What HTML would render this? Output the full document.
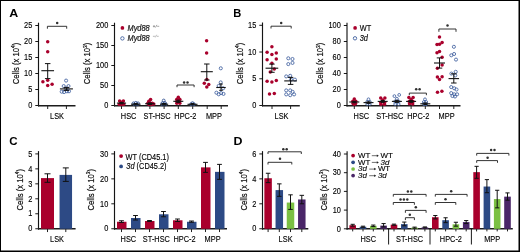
<!DOCTYPE html>
<html><head><meta charset="utf-8"><style>
html,body{margin:0;padding:0;background:#fff;overflow:hidden;width:520px;height:252px;}
svg{display:block;font-family:"Liberation Sans", sans-serif;}
text{stroke:#000;stroke-width:0.13px;}
.w{will-change:transform;}
</style></head><body>
<svg width="520" height="252" viewBox="0 0 520 252">
<rect width="520" height="252" fill="#fff"/>
<g class="w">
<rect x="0" y="0" width="520" height="1" fill="#000"/>
<rect x="0" y="0" width="1" height="252" fill="#000"/>
<rect x="518.5" y="0" width="1.5" height="252" fill="#000"/>
<rect x="0" y="250.5" width="520" height="1.5" fill="#000"/>
<text transform="translate(9.30,16.60) scale(1.08,1)" font-size="11.5" text-anchor="start" font-weight="bold" font-style="normal" fill="#000" style="stroke:none">A</text>
<line x1="38.50" y1="22.70" x2="38.50" y2="106.40" stroke="#151515" stroke-width="1.15"/>
<line x1="35.30" y1="105.50" x2="38.50" y2="105.50" stroke="#000" stroke-width="0.9"/>
<text transform="translate(32.30,108.20) scale(0.9,1)" font-size="8.2" text-anchor="end" font-weight="normal" font-style="normal" fill="#000" >0</text>
<line x1="35.30" y1="89.50" x2="38.50" y2="89.50" stroke="#000" stroke-width="0.9"/>
<text transform="translate(32.30,92.20) scale(0.9,1)" font-size="8.2" text-anchor="end" font-weight="normal" font-style="normal" fill="#000" >5</text>
<line x1="35.30" y1="73.50" x2="38.50" y2="73.50" stroke="#000" stroke-width="0.9"/>
<text transform="translate(32.30,76.20) scale(0.9,1)" font-size="8.2" text-anchor="end" font-weight="normal" font-style="normal" fill="#000" >10</text>
<line x1="35.30" y1="57.50" x2="38.50" y2="57.50" stroke="#000" stroke-width="0.9"/>
<text transform="translate(32.30,60.20) scale(0.9,1)" font-size="8.2" text-anchor="end" font-weight="normal" font-style="normal" fill="#000" >15</text>
<line x1="35.30" y1="41.50" x2="38.50" y2="41.50" stroke="#000" stroke-width="0.9"/>
<text transform="translate(32.30,44.20) scale(0.9,1)" font-size="8.2" text-anchor="end" font-weight="normal" font-style="normal" fill="#000" >20</text>
<line x1="35.30" y1="25.50" x2="38.50" y2="25.50" stroke="#000" stroke-width="0.9"/>
<text transform="translate(32.30,28.20) scale(0.9,1)" font-size="8.2" text-anchor="end" font-weight="normal" font-style="normal" fill="#000" >25</text>
<line x1="38.00" y1="105.70" x2="75.50" y2="105.70" stroke="#1c1c1c" stroke-width="1.4"/>
<line x1="47.70" y1="105.70" x2="47.70" y2="109.00" stroke="#222" stroke-width="1.0"/>
<line x1="66.40" y1="105.70" x2="66.40" y2="109.00" stroke="#222" stroke-width="1.0"/>
<text transform="translate(18.50,63.50) rotate(-90) scale(0.795,1)" font-size="9.7" text-anchor="middle" fill="#111" style="stroke-width:0.2px">Cells (x 10<tspan font-size="6" dy="-3.6">4</tspan><tspan dy="3.6">)</tspan></text>
<text transform="translate(57.00,118.80) scale(0.9,1)" font-size="8.2" text-anchor="middle" font-weight="normal" font-style="normal" fill="#000" >LSK</text>
<path d="M47.40,28.70 V26.30 H66.70 V28.70" fill="none" stroke="#1e1e1e" stroke-width="0.9"/>
<circle cx="57.20" cy="23.00" r="1.25" fill="#303030"/>
<circle cx="47.70" cy="41.70" r="1.75" fill="#a9002c"/>
<circle cx="47.70" cy="51.70" r="1.75" fill="#a9002c"/>
<circle cx="42.90" cy="81.80" r="1.75" fill="#a9002c"/>
<circle cx="47.70" cy="80.20" r="1.75" fill="#a9002c"/>
<circle cx="47.70" cy="85.50" r="1.75" fill="#a9002c"/>
<circle cx="52.10" cy="84.20" r="1.75" fill="#a9002c"/>
<circle cx="66.10" cy="80.60" r="1.55" fill="none" stroke="#41619f" stroke-width="0.85"/>
<circle cx="63.70" cy="86.10" r="1.55" fill="none" stroke="#41619f" stroke-width="0.85"/>
<circle cx="68.50" cy="86.10" r="1.55" fill="none" stroke="#41619f" stroke-width="0.85"/>
<circle cx="61.70" cy="91.70" r="1.55" fill="none" stroke="#41619f" stroke-width="0.85"/>
<circle cx="64.10" cy="92.10" r="1.55" fill="none" stroke="#41619f" stroke-width="0.85"/>
<circle cx="66.90" cy="91.30" r="1.55" fill="none" stroke="#41619f" stroke-width="0.85"/>
<circle cx="69.00" cy="91.30" r="1.55" fill="none" stroke="#41619f" stroke-width="0.85"/>
<circle cx="66.20" cy="88.60" r="1.55" fill="none" stroke="#41619f" stroke-width="0.85"/>
<line x1="47.70" y1="63.60" x2="47.70" y2="78.60" stroke="#111" stroke-width="1.0"/>
<line x1="44.95" y1="63.60" x2="50.45" y2="63.60" stroke="#111" stroke-width="1.0"/>
<line x1="44.95" y1="78.60" x2="50.45" y2="78.60" stroke="#111" stroke-width="1.0"/>
<line x1="41.35" y1="70.70" x2="54.05" y2="70.70" stroke="#111" stroke-width="1.1"/>
<line x1="66.40" y1="87.40" x2="66.40" y2="90.40" stroke="#111" stroke-width="1.0"/>
<line x1="63.65" y1="87.40" x2="69.15" y2="87.40" stroke="#111" stroke-width="1.0"/>
<line x1="63.65" y1="90.40" x2="69.15" y2="90.40" stroke="#111" stroke-width="1.0"/>
<line x1="59.90" y1="88.90" x2="72.90" y2="88.90" stroke="#111" stroke-width="1.1"/>
<line x1="114.50" y1="22.70" x2="114.50" y2="106.40" stroke="#151515" stroke-width="1.15"/>
<line x1="111.30" y1="105.50" x2="114.50" y2="105.50" stroke="#000" stroke-width="0.9"/>
<text transform="translate(108.30,108.20) scale(0.9,1)" font-size="8.2" text-anchor="end" font-weight="normal" font-style="normal" fill="#000" >0</text>
<line x1="111.30" y1="85.50" x2="114.50" y2="85.50" stroke="#000" stroke-width="0.9"/>
<text transform="translate(108.30,88.20) scale(0.9,1)" font-size="8.2" text-anchor="end" font-weight="normal" font-style="normal" fill="#000" >50</text>
<line x1="111.30" y1="65.50" x2="114.50" y2="65.50" stroke="#000" stroke-width="0.9"/>
<text transform="translate(108.30,68.20) scale(0.9,1)" font-size="8.2" text-anchor="end" font-weight="normal" font-style="normal" fill="#000" >100</text>
<line x1="111.30" y1="45.50" x2="114.50" y2="45.50" stroke="#000" stroke-width="0.9"/>
<text transform="translate(108.30,48.20) scale(0.9,1)" font-size="8.2" text-anchor="end" font-weight="normal" font-style="normal" fill="#000" >150</text>
<line x1="111.30" y1="25.50" x2="114.50" y2="25.50" stroke="#000" stroke-width="0.9"/>
<text transform="translate(108.30,28.20) scale(0.9,1)" font-size="8.2" text-anchor="end" font-weight="normal" font-style="normal" fill="#000" >200</text>
<line x1="114.00" y1="105.70" x2="228.00" y2="105.70" stroke="#1c1c1c" stroke-width="1.4"/>
<line x1="121.50" y1="105.70" x2="121.50" y2="109.00" stroke="#222" stroke-width="1.0"/>
<line x1="135.80" y1="105.70" x2="135.80" y2="109.00" stroke="#222" stroke-width="1.0"/>
<line x1="149.90" y1="105.70" x2="149.90" y2="109.00" stroke="#222" stroke-width="1.0"/>
<line x1="164.10" y1="105.70" x2="164.10" y2="109.00" stroke="#222" stroke-width="1.0"/>
<line x1="178.30" y1="105.70" x2="178.30" y2="109.00" stroke="#222" stroke-width="1.0"/>
<line x1="192.70" y1="105.70" x2="192.70" y2="109.00" stroke="#222" stroke-width="1.0"/>
<line x1="207.20" y1="105.70" x2="207.20" y2="109.00" stroke="#222" stroke-width="1.0"/>
<line x1="221.20" y1="105.70" x2="221.20" y2="109.00" stroke="#222" stroke-width="1.0"/>
<text transform="translate(90.40,63.50) rotate(-90) scale(0.795,1)" font-size="9.7" text-anchor="middle" fill="#111" style="stroke-width:0.2px">Cells (x 10<tspan font-size="6" dy="-3.6">3</tspan><tspan dy="3.6">)</tspan></text>
<text transform="translate(128.60,118.80) scale(0.9,1)" font-size="8.2" text-anchor="middle" font-weight="normal" font-style="normal" fill="#000" >HSC</text>
<text transform="translate(157.00,118.80) scale(0.9,1)" font-size="8.2" text-anchor="middle" font-weight="normal" font-style="normal" fill="#000" >ST-HSC</text>
<text transform="translate(185.40,118.80) scale(0.9,1)" font-size="8.2" text-anchor="middle" font-weight="normal" font-style="normal" fill="#000" >HPC-2</text>
<text transform="translate(213.90,118.80) scale(0.9,1)" font-size="8.2" text-anchor="middle" font-weight="normal" font-style="normal" fill="#000" >MPP</text>
<circle cx="122.40" cy="27.90" r="1.85" fill="#a9002c"/>
<circle cx="122.40" cy="38.40" r="1.7" fill="none" stroke="#41619f" stroke-width="0.9"/>
<text transform="translate(127.50,30.50) scale(0.9,1)" font-size="8.2" text-anchor="start" font-weight="normal" font-style="italic" fill="#000" >Myd88</text>
<path d="M152.9,26.3H155.1M154,25.2V27.4M155.5,27.5L156.9,24.9M157.2,26.3H159.2" stroke="#6a6a6a" stroke-width="0.6" fill="none"/>
<text transform="translate(127.50,41.00) scale(0.9,1)" font-size="8.2" text-anchor="start" font-weight="normal" font-style="italic" fill="#000" >Myd88</text>
<path d="M152.9,36.3H154.9M155.3,37.4L156.6,34.8M156.9,36.3H158.7" stroke="#8a8a8a" stroke-width="0.6" fill="none"/>
<circle cx="119.60" cy="101.00" r="1.75" fill="#a9002c"/>
<circle cx="123.40" cy="101.00" r="1.75" fill="#a9002c"/>
<circle cx="121.50" cy="102.30" r="1.75" fill="#a9002c"/>
<circle cx="119.30" cy="104.20" r="1.75" fill="#a9002c"/>
<circle cx="121.50" cy="104.40" r="1.75" fill="#a9002c"/>
<circle cx="123.70" cy="104.20" r="1.75" fill="#a9002c"/>
<line x1="121.50" y1="102.40" x2="121.50" y2="103.80" stroke="#111" stroke-width="1.0"/>
<line x1="119.50" y1="102.40" x2="123.50" y2="102.40" stroke="#111" stroke-width="1.0"/>
<line x1="119.50" y1="103.80" x2="123.50" y2="103.80" stroke="#111" stroke-width="1.0"/>
<line x1="116.90" y1="103.10" x2="126.10" y2="103.10" stroke="#111" stroke-width="1.1"/>
<circle cx="133.50" cy="103.30" r="1.4" fill="none" stroke="#2f4f8f" stroke-width="0.85"/>
<circle cx="135.80" cy="102.80" r="1.4" fill="none" stroke="#2f4f8f" stroke-width="0.85"/>
<circle cx="138.10" cy="103.30" r="1.4" fill="none" stroke="#2f4f8f" stroke-width="0.85"/>
<circle cx="134.50" cy="104.40" r="1.4" fill="none" stroke="#2f4f8f" stroke-width="0.85"/>
<circle cx="137.10" cy="104.40" r="1.4" fill="none" stroke="#2f4f8f" stroke-width="0.85"/>
<line x1="135.80" y1="103.60" x2="135.80" y2="104.80" stroke="#111" stroke-width="1.0"/>
<line x1="133.80" y1="103.60" x2="137.80" y2="103.60" stroke="#111" stroke-width="1.0"/>
<line x1="133.80" y1="104.80" x2="137.80" y2="104.80" stroke="#111" stroke-width="1.0"/>
<line x1="131.05" y1="104.20" x2="140.55" y2="104.20" stroke="#111" stroke-width="1.1"/>
<circle cx="150.60" cy="99.40" r="1.75" fill="#a9002c"/>
<circle cx="148.80" cy="101.30" r="1.75" fill="#a9002c"/>
<circle cx="147.80" cy="103.20" r="1.75" fill="#a9002c"/>
<circle cx="150.00" cy="103.00" r="1.75" fill="#a9002c"/>
<circle cx="152.30" cy="103.20" r="1.75" fill="#a9002c"/>
<circle cx="153.80" cy="104.00" r="1.75" fill="#a9002c"/>
<circle cx="149.00" cy="104.50" r="1.75" fill="#a9002c"/>
<circle cx="151.50" cy="104.60" r="1.75" fill="#a9002c"/>
<line x1="149.90" y1="102.90" x2="149.90" y2="104.50" stroke="#111" stroke-width="1.0"/>
<line x1="147.90" y1="102.90" x2="151.90" y2="102.90" stroke="#111" stroke-width="1.0"/>
<line x1="147.90" y1="104.50" x2="151.90" y2="104.50" stroke="#111" stroke-width="1.0"/>
<line x1="145.15" y1="103.70" x2="154.65" y2="103.70" stroke="#111" stroke-width="1.1"/>
<circle cx="163.70" cy="100.50" r="1.4" fill="none" stroke="#2f4f8f" stroke-width="0.85"/>
<circle cx="162.50" cy="103.00" r="1.4" fill="none" stroke="#2f4f8f" stroke-width="0.85"/>
<circle cx="165.00" cy="103.00" r="1.4" fill="none" stroke="#2f4f8f" stroke-width="0.85"/>
<circle cx="162.30" cy="104.50" r="1.4" fill="none" stroke="#2f4f8f" stroke-width="0.85"/>
<circle cx="165.30" cy="104.50" r="1.4" fill="none" stroke="#2f4f8f" stroke-width="0.85"/>
<line x1="164.10" y1="103.50" x2="164.10" y2="104.90" stroke="#111" stroke-width="1.0"/>
<line x1="162.10" y1="103.50" x2="166.10" y2="103.50" stroke="#111" stroke-width="1.0"/>
<line x1="162.10" y1="104.90" x2="166.10" y2="104.90" stroke="#111" stroke-width="1.0"/>
<line x1="160.05" y1="104.20" x2="168.15" y2="104.20" stroke="#111" stroke-width="1.1"/>
<circle cx="178.30" cy="97.20" r="1.75" fill="#a9002c"/>
<circle cx="176.70" cy="99.50" r="1.75" fill="#a9002c"/>
<circle cx="179.90" cy="99.50" r="1.75" fill="#a9002c"/>
<circle cx="177.00" cy="101.60" r="1.75" fill="#a9002c"/>
<circle cx="179.70" cy="101.60" r="1.75" fill="#a9002c"/>
<circle cx="178.30" cy="100.30" r="1.75" fill="#a9002c"/>
<circle cx="176.80" cy="103.20" r="1.75" fill="#a9002c"/>
<circle cx="179.80" cy="103.20" r="1.75" fill="#a9002c"/>
<line x1="178.30" y1="100.20" x2="178.30" y2="102.40" stroke="#111" stroke-width="1.0"/>
<line x1="176.30" y1="100.20" x2="180.30" y2="100.20" stroke="#111" stroke-width="1.0"/>
<line x1="176.30" y1="102.40" x2="180.30" y2="102.40" stroke="#111" stroke-width="1.0"/>
<line x1="173.30" y1="101.30" x2="183.30" y2="101.30" stroke="#111" stroke-width="1.1"/>
<circle cx="192.50" cy="103.00" r="1.4" fill="none" stroke="#41619f" stroke-width="0.85"/>
<circle cx="191.00" cy="104.20" r="1.4" fill="none" stroke="#41619f" stroke-width="0.85"/>
<circle cx="194.00" cy="104.20" r="1.4" fill="none" stroke="#41619f" stroke-width="0.85"/>
<circle cx="192.50" cy="104.50" r="1.4" fill="none" stroke="#41619f" stroke-width="0.85"/>
<line x1="192.50" y1="103.60" x2="192.50" y2="104.90" stroke="#111" stroke-width="1.0"/>
<line x1="190.50" y1="103.60" x2="194.50" y2="103.60" stroke="#111" stroke-width="1.0"/>
<line x1="190.50" y1="104.90" x2="194.50" y2="104.90" stroke="#111" stroke-width="1.0"/>
<line x1="187.50" y1="104.30" x2="197.50" y2="104.30" stroke="#111" stroke-width="1.1"/>
<path d="M177.00,87.20 V85.00 H194.10 V87.20" fill="none" stroke="#1e1e1e" stroke-width="0.9"/>
<circle cx="184.10" cy="82.40" r="1.25" fill="#303030"/>
<circle cx="187.50" cy="82.40" r="1.25" fill="#303030"/>
<circle cx="206.60" cy="40.70" r="1.75" fill="#a9002c"/>
<circle cx="206.60" cy="53.10" r="1.75" fill="#a9002c"/>
<circle cx="204.30" cy="83.30" r="1.75" fill="#a9002c"/>
<circle cx="208.75" cy="84.60" r="1.75" fill="#a9002c"/>
<circle cx="206.80" cy="87.10" r="1.75" fill="#a9002c"/>
<circle cx="206.80" cy="79.50" r="1.75" fill="#a9002c"/>
<line x1="206.80" y1="64.00" x2="206.80" y2="80.00" stroke="#111" stroke-width="1.0"/>
<line x1="204.05" y1="64.00" x2="209.55" y2="64.00" stroke="#111" stroke-width="1.0"/>
<line x1="204.05" y1="80.00" x2="209.55" y2="80.00" stroke="#111" stroke-width="1.0"/>
<line x1="200.80" y1="71.70" x2="212.80" y2="71.70" stroke="#111" stroke-width="1.1"/>
<circle cx="220.80" cy="68.30" r="1.55" fill="none" stroke="#41619f" stroke-width="0.85"/>
<circle cx="220.70" cy="82.40" r="1.55" fill="none" stroke="#41619f" stroke-width="0.85"/>
<circle cx="218.70" cy="85.90" r="1.55" fill="none" stroke="#41619f" stroke-width="0.85"/>
<circle cx="223.10" cy="88.30" r="1.55" fill="none" stroke="#41619f" stroke-width="0.85"/>
<circle cx="216.40" cy="92.70" r="1.55" fill="none" stroke="#41619f" stroke-width="0.85"/>
<circle cx="218.70" cy="94.30" r="1.55" fill="none" stroke="#41619f" stroke-width="0.85"/>
<circle cx="221.10" cy="93.10" r="1.55" fill="none" stroke="#41619f" stroke-width="0.85"/>
<circle cx="223.50" cy="93.90" r="1.55" fill="none" stroke="#41619f" stroke-width="0.85"/>
<line x1="221.00" y1="84.00" x2="221.00" y2="90.30" stroke="#111" stroke-width="1.0"/>
<line x1="219.25" y1="84.00" x2="222.75" y2="84.00" stroke="#111" stroke-width="1.0"/>
<line x1="219.25" y1="90.30" x2="222.75" y2="90.30" stroke="#111" stroke-width="1.0"/>
<line x1="216.25" y1="87.50" x2="225.75" y2="87.50" stroke="#111" stroke-width="1.1"/>
<text transform="translate(233.30,16.60) scale(0.97,1)" font-size="11.5" text-anchor="start" font-weight="bold" font-style="normal" fill="#000" style="stroke:none">B</text>
<line x1="262.50" y1="22.50" x2="262.50" y2="106.40" stroke="#151515" stroke-width="1.15"/>
<line x1="259.30" y1="105.50" x2="262.50" y2="105.50" stroke="#000" stroke-width="0.9"/>
<text transform="translate(256.30,108.20) scale(0.9,1)" font-size="8.2" text-anchor="end" font-weight="normal" font-style="normal" fill="#000" >0</text>
<line x1="259.30" y1="78.77" x2="262.50" y2="78.77" stroke="#000" stroke-width="0.9"/>
<text transform="translate(256.30,81.47) scale(0.9,1)" font-size="8.2" text-anchor="end" font-weight="normal" font-style="normal" fill="#000" >5</text>
<line x1="259.30" y1="52.03" x2="262.50" y2="52.03" stroke="#000" stroke-width="0.9"/>
<text transform="translate(256.30,54.73) scale(0.9,1)" font-size="8.2" text-anchor="end" font-weight="normal" font-style="normal" fill="#000" >10</text>
<line x1="259.30" y1="25.30" x2="262.50" y2="25.30" stroke="#000" stroke-width="0.9"/>
<text transform="translate(256.30,28.00) scale(0.9,1)" font-size="8.2" text-anchor="end" font-weight="normal" font-style="normal" fill="#000" >15</text>
<line x1="262.00" y1="105.70" x2="299.80" y2="105.70" stroke="#1c1c1c" stroke-width="1.4"/>
<line x1="272.00" y1="105.70" x2="272.00" y2="109.00" stroke="#222" stroke-width="1.0"/>
<line x1="290.60" y1="105.70" x2="290.60" y2="109.00" stroke="#222" stroke-width="1.0"/>
<text transform="translate(242.80,63.50) rotate(-90) scale(0.795,1)" font-size="9.7" text-anchor="middle" fill="#111" style="stroke-width:0.2px">Cells (x 10<tspan font-size="6" dy="-3.6">4</tspan><tspan dy="3.6">)</tspan></text>
<text transform="translate(281.50,118.80) scale(0.9,1)" font-size="8.2" text-anchor="middle" font-weight="normal" font-style="normal" fill="#000" >LSK</text>
<path d="M271.00,28.50 V26.20 H291.20 V28.50" fill="none" stroke="#1e1e1e" stroke-width="0.9"/>
<circle cx="281.20" cy="23.00" r="1.25" fill="#303030"/>
<circle cx="271.90" cy="46.70" r="1.75" fill="#a9002c"/>
<circle cx="267.10" cy="52.20" r="1.75" fill="#a9002c"/>
<circle cx="271.90" cy="54.60" r="1.75" fill="#a9002c"/>
<circle cx="276.30" cy="53.00" r="1.75" fill="#a9002c"/>
<circle cx="267.10" cy="59.80" r="1.75" fill="#a9002c"/>
<circle cx="276.30" cy="59.00" r="1.75" fill="#a9002c"/>
<circle cx="271.90" cy="63.30" r="1.75" fill="#a9002c"/>
<circle cx="270.30" cy="72.10" r="1.75" fill="#a9002c"/>
<circle cx="274.30" cy="69.00" r="1.75" fill="#a9002c"/>
<circle cx="267.10" cy="81.30" r="1.75" fill="#a9002c"/>
<circle cx="271.90" cy="82.00" r="1.75" fill="#a9002c"/>
<circle cx="276.30" cy="80.60" r="1.75" fill="#a9002c"/>
<circle cx="269.50" cy="94.00" r="1.75" fill="#a9002c"/>
<circle cx="274.30" cy="93.60" r="1.75" fill="#a9002c"/>
<line x1="271.90" y1="64.10" x2="271.90" y2="72.30" stroke="#111" stroke-width="1.0"/>
<line x1="269.15" y1="64.10" x2="274.65" y2="64.10" stroke="#111" stroke-width="1.0"/>
<line x1="269.15" y1="72.30" x2="274.65" y2="72.30" stroke="#111" stroke-width="1.0"/>
<line x1="265.55" y1="68.20" x2="278.25" y2="68.20" stroke="#111" stroke-width="1.1"/>
<circle cx="288.30" cy="58.30" r="1.55" fill="none" stroke="#41619f" stroke-width="0.85"/>
<circle cx="292.50" cy="59.00" r="1.55" fill="none" stroke="#41619f" stroke-width="0.85"/>
<circle cx="288.30" cy="64.10" r="1.55" fill="none" stroke="#41619f" stroke-width="0.85"/>
<circle cx="292.50" cy="62.90" r="1.55" fill="none" stroke="#41619f" stroke-width="0.85"/>
<circle cx="286.20" cy="76.40" r="1.55" fill="none" stroke="#41619f" stroke-width="0.85"/>
<circle cx="290.20" cy="75.80" r="1.55" fill="none" stroke="#41619f" stroke-width="0.85"/>
<circle cx="294.90" cy="79.60" r="1.55" fill="none" stroke="#41619f" stroke-width="0.85"/>
<circle cx="291.00" cy="79.60" r="1.55" fill="none" stroke="#41619f" stroke-width="0.85"/>
<circle cx="286.20" cy="90.40" r="1.55" fill="none" stroke="#41619f" stroke-width="0.85"/>
<circle cx="290.20" cy="90.40" r="1.55" fill="none" stroke="#41619f" stroke-width="0.85"/>
<circle cx="286.20" cy="94.40" r="1.55" fill="none" stroke="#41619f" stroke-width="0.85"/>
<circle cx="290.20" cy="95.20" r="1.55" fill="none" stroke="#41619f" stroke-width="0.85"/>
<circle cx="294.10" cy="94.40" r="1.55" fill="none" stroke="#41619f" stroke-width="0.85"/>
<circle cx="292.60" cy="91.80" r="1.55" fill="none" stroke="#41619f" stroke-width="0.85"/>
<line x1="290.60" y1="77.40" x2="290.60" y2="84.40" stroke="#111" stroke-width="1.0"/>
<line x1="287.85" y1="77.40" x2="293.35" y2="77.40" stroke="#111" stroke-width="1.0"/>
<line x1="287.85" y1="84.40" x2="293.35" y2="84.40" stroke="#111" stroke-width="1.0"/>
<line x1="284.25" y1="80.90" x2="296.95" y2="80.90" stroke="#111" stroke-width="1.1"/>
<line x1="347.00" y1="22.70" x2="347.00" y2="106.40" stroke="#151515" stroke-width="1.15"/>
<line x1="343.80" y1="105.50" x2="347.00" y2="105.50" stroke="#000" stroke-width="0.9"/>
<text transform="translate(340.80,108.20) scale(0.9,1)" font-size="8.2" text-anchor="end" font-weight="normal" font-style="normal" fill="#000" >0</text>
<line x1="343.80" y1="89.50" x2="347.00" y2="89.50" stroke="#000" stroke-width="0.9"/>
<text transform="translate(340.80,92.20) scale(0.9,1)" font-size="8.2" text-anchor="end" font-weight="normal" font-style="normal" fill="#000" >20</text>
<line x1="343.80" y1="73.50" x2="347.00" y2="73.50" stroke="#000" stroke-width="0.9"/>
<text transform="translate(340.80,76.20) scale(0.9,1)" font-size="8.2" text-anchor="end" font-weight="normal" font-style="normal" fill="#000" >40</text>
<line x1="343.80" y1="57.50" x2="347.00" y2="57.50" stroke="#000" stroke-width="0.9"/>
<text transform="translate(340.80,60.20) scale(0.9,1)" font-size="8.2" text-anchor="end" font-weight="normal" font-style="normal" fill="#000" >60</text>
<line x1="343.80" y1="41.50" x2="347.00" y2="41.50" stroke="#000" stroke-width="0.9"/>
<text transform="translate(340.80,44.20) scale(0.9,1)" font-size="8.2" text-anchor="end" font-weight="normal" font-style="normal" fill="#000" >80</text>
<line x1="343.80" y1="25.50" x2="347.00" y2="25.50" stroke="#000" stroke-width="0.9"/>
<text transform="translate(340.80,28.20) scale(0.9,1)" font-size="8.2" text-anchor="end" font-weight="normal" font-style="normal" fill="#000" >100</text>
<line x1="346.50" y1="105.70" x2="460.50" y2="105.70" stroke="#1c1c1c" stroke-width="1.4"/>
<line x1="354.30" y1="105.70" x2="354.30" y2="109.00" stroke="#222" stroke-width="1.0"/>
<line x1="368.50" y1="105.70" x2="368.50" y2="109.00" stroke="#222" stroke-width="1.0"/>
<line x1="382.70" y1="105.70" x2="382.70" y2="109.00" stroke="#222" stroke-width="1.0"/>
<line x1="396.90" y1="105.70" x2="396.90" y2="109.00" stroke="#222" stroke-width="1.0"/>
<line x1="411.10" y1="105.70" x2="411.10" y2="109.00" stroke="#222" stroke-width="1.0"/>
<line x1="425.30" y1="105.70" x2="425.30" y2="109.00" stroke="#222" stroke-width="1.0"/>
<line x1="439.50" y1="105.70" x2="439.50" y2="109.00" stroke="#222" stroke-width="1.0"/>
<line x1="453.80" y1="105.70" x2="453.80" y2="109.00" stroke="#222" stroke-width="1.0"/>
<text transform="translate(323.30,63.50) rotate(-90) scale(0.795,1)" font-size="9.7" text-anchor="middle" fill="#111" style="stroke-width:0.2px">Cells (x 10<tspan font-size="6" dy="-3.6">3</tspan><tspan dy="3.6">)</tspan></text>
<text transform="translate(361.40,118.80) scale(0.9,1)" font-size="8.2" text-anchor="middle" font-weight="normal" font-style="normal" fill="#000" >HSC</text>
<text transform="translate(389.80,118.80) scale(0.9,1)" font-size="8.2" text-anchor="middle" font-weight="normal" font-style="normal" fill="#000" >ST-HSC</text>
<text transform="translate(418.20,118.80) scale(0.9,1)" font-size="8.2" text-anchor="middle" font-weight="normal" font-style="normal" fill="#000" >HPC-2</text>
<text transform="translate(446.60,118.80) scale(0.9,1)" font-size="8.2" text-anchor="middle" font-weight="normal" font-style="normal" fill="#000" >MPP</text>
<circle cx="355.10" cy="27.90" r="1.85" fill="#a9002c"/>
<circle cx="355.00" cy="38.30" r="1.7" fill="none" stroke="#41619f" stroke-width="0.9"/>
<text transform="translate(359.70,30.50) scale(0.9,1)" font-size="8.2" text-anchor="start" font-weight="normal" font-style="normal" fill="#000" >WT</text>
<text transform="translate(359.70,41.00) scale(0.9,1)" font-size="8.2" text-anchor="start" font-weight="normal" font-style="italic" fill="#000" >3d</text>
<circle cx="354.30" cy="99.00" r="1.75" fill="#a9002c"/>
<circle cx="352.80" cy="101.30" r="1.75" fill="#a9002c"/>
<circle cx="355.80" cy="101.30" r="1.75" fill="#a9002c"/>
<circle cx="353.00" cy="103.60" r="1.75" fill="#a9002c"/>
<circle cx="355.60" cy="103.60" r="1.75" fill="#a9002c"/>
<circle cx="354.30" cy="104.20" r="1.75" fill="#a9002c"/>
<line x1="354.30" y1="101.30" x2="354.30" y2="102.80" stroke="#111" stroke-width="1.0"/>
<line x1="352.30" y1="101.30" x2="356.30" y2="101.30" stroke="#111" stroke-width="1.0"/>
<line x1="352.30" y1="102.80" x2="356.30" y2="102.80" stroke="#111" stroke-width="1.0"/>
<line x1="349.30" y1="102.00" x2="359.30" y2="102.00" stroke="#111" stroke-width="1.1"/>
<circle cx="368.50" cy="99.30" r="1.4" fill="none" stroke="#41619f" stroke-width="0.85"/>
<circle cx="367.20" cy="101.80" r="1.4" fill="none" stroke="#41619f" stroke-width="0.85"/>
<circle cx="369.80" cy="101.80" r="1.4" fill="none" stroke="#41619f" stroke-width="0.85"/>
<circle cx="367.20" cy="104.00" r="1.4" fill="none" stroke="#41619f" stroke-width="0.85"/>
<circle cx="369.80" cy="104.00" r="1.4" fill="none" stroke="#41619f" stroke-width="0.85"/>
<line x1="368.50" y1="101.80" x2="368.50" y2="103.40" stroke="#111" stroke-width="1.0"/>
<line x1="366.50" y1="101.80" x2="370.50" y2="101.80" stroke="#111" stroke-width="1.0"/>
<line x1="366.50" y1="103.40" x2="370.50" y2="103.40" stroke="#111" stroke-width="1.0"/>
<line x1="363.50" y1="102.60" x2="373.50" y2="102.60" stroke="#111" stroke-width="1.1"/>
<circle cx="380.70" cy="97.90" r="1.75" fill="#a9002c"/>
<circle cx="384.90" cy="98.10" r="1.75" fill="#a9002c"/>
<circle cx="382.70" cy="100.00" r="1.75" fill="#a9002c"/>
<circle cx="380.70" cy="102.50" r="1.75" fill="#a9002c"/>
<circle cx="384.70" cy="102.50" r="1.75" fill="#a9002c"/>
<circle cx="381.00" cy="104.30" r="1.75" fill="#a9002c"/>
<circle cx="384.40" cy="104.30" r="1.75" fill="#a9002c"/>
<line x1="382.70" y1="100.50" x2="382.70" y2="102.40" stroke="#111" stroke-width="1.0"/>
<line x1="380.70" y1="100.50" x2="384.70" y2="100.50" stroke="#111" stroke-width="1.0"/>
<line x1="380.70" y1="102.40" x2="384.70" y2="102.40" stroke="#111" stroke-width="1.0"/>
<line x1="377.70" y1="101.40" x2="387.70" y2="101.40" stroke="#111" stroke-width="1.1"/>
<circle cx="394.40" cy="96.10" r="1.4" fill="none" stroke="#41619f" stroke-width="0.85"/>
<circle cx="399.20" cy="94.90" r="1.4" fill="none" stroke="#41619f" stroke-width="0.85"/>
<circle cx="396.90" cy="98.80" r="1.4" fill="none" stroke="#41619f" stroke-width="0.85"/>
<circle cx="395.00" cy="101.50" r="1.4" fill="none" stroke="#41619f" stroke-width="0.85"/>
<circle cx="398.80" cy="101.50" r="1.4" fill="none" stroke="#41619f" stroke-width="0.85"/>
<circle cx="395.20" cy="104.10" r="1.4" fill="none" stroke="#41619f" stroke-width="0.85"/>
<circle cx="398.60" cy="104.10" r="1.4" fill="none" stroke="#41619f" stroke-width="0.85"/>
<line x1="396.90" y1="100.40" x2="396.90" y2="102.40" stroke="#111" stroke-width="1.0"/>
<line x1="394.90" y1="100.40" x2="398.90" y2="100.40" stroke="#111" stroke-width="1.0"/>
<line x1="394.90" y1="102.40" x2="398.90" y2="102.40" stroke="#111" stroke-width="1.0"/>
<line x1="391.90" y1="101.40" x2="401.90" y2="101.40" stroke="#111" stroke-width="1.1"/>
<circle cx="408.90" cy="97.60" r="1.75" fill="#a9002c"/>
<circle cx="413.10" cy="97.60" r="1.75" fill="#a9002c"/>
<circle cx="411.10" cy="99.50" r="1.75" fill="#a9002c"/>
<circle cx="409.20" cy="101.50" r="1.75" fill="#a9002c"/>
<circle cx="413.00" cy="101.50" r="1.75" fill="#a9002c"/>
<circle cx="409.50" cy="103.80" r="1.75" fill="#a9002c"/>
<circle cx="412.70" cy="104.00" r="1.75" fill="#a9002c"/>
<circle cx="411.10" cy="102.30" r="1.75" fill="#a9002c"/>
<line x1="411.10" y1="100.60" x2="411.10" y2="102.30" stroke="#111" stroke-width="1.0"/>
<line x1="409.10" y1="100.60" x2="413.10" y2="100.60" stroke="#111" stroke-width="1.0"/>
<line x1="409.10" y1="102.30" x2="413.10" y2="102.30" stroke="#111" stroke-width="1.0"/>
<line x1="406.10" y1="101.40" x2="416.10" y2="101.40" stroke="#111" stroke-width="1.1"/>
<circle cx="425.00" cy="99.30" r="1.4" fill="none" stroke="#41619f" stroke-width="0.85"/>
<circle cx="423.80" cy="102.00" r="1.4" fill="none" stroke="#41619f" stroke-width="0.85"/>
<circle cx="426.20" cy="102.00" r="1.4" fill="none" stroke="#41619f" stroke-width="0.85"/>
<circle cx="424.00" cy="104.20" r="1.4" fill="none" stroke="#41619f" stroke-width="0.85"/>
<circle cx="426.00" cy="104.20" r="1.4" fill="none" stroke="#41619f" stroke-width="0.85"/>
<line x1="425.30" y1="103.00" x2="425.30" y2="104.50" stroke="#111" stroke-width="1.0"/>
<line x1="423.30" y1="103.00" x2="427.30" y2="103.00" stroke="#111" stroke-width="1.0"/>
<line x1="423.30" y1="104.50" x2="427.30" y2="104.50" stroke="#111" stroke-width="1.0"/>
<line x1="420.30" y1="103.80" x2="430.30" y2="103.80" stroke="#111" stroke-width="1.1"/>
<path d="M409.30,95.20 V93.10 H426.40 V95.20" fill="none" stroke="#1e1e1e" stroke-width="0.9"/>
<circle cx="416.20" cy="89.30" r="1.25" fill="#303030"/>
<circle cx="419.60" cy="89.30" r="1.25" fill="#303030"/>
<circle cx="439.50" cy="36.90" r="1.75" fill="#a9002c"/>
<circle cx="437.00" cy="44.50" r="1.75" fill="#a9002c"/>
<circle cx="439.50" cy="44.30" r="1.75" fill="#a9002c"/>
<circle cx="442.10" cy="42.60" r="1.75" fill="#a9002c"/>
<circle cx="437.00" cy="52.80" r="1.75" fill="#a9002c"/>
<circle cx="439.50" cy="51.50" r="1.75" fill="#a9002c"/>
<circle cx="442.10" cy="57.20" r="1.75" fill="#a9002c"/>
<circle cx="442.10" cy="64.90" r="1.75" fill="#a9002c"/>
<circle cx="437.40" cy="68.30" r="1.75" fill="#a9002c"/>
<circle cx="437.40" cy="77.00" r="1.75" fill="#a9002c"/>
<circle cx="442.10" cy="76.70" r="1.75" fill="#a9002c"/>
<circle cx="439.50" cy="79.50" r="1.75" fill="#a9002c"/>
<circle cx="437.50" cy="92.30" r="1.75" fill="#a9002c"/>
<circle cx="441.90" cy="91.30" r="1.75" fill="#a9002c"/>
<line x1="439.50" y1="57.90" x2="439.50" y2="68.10" stroke="#111" stroke-width="1.0"/>
<line x1="436.75" y1="57.90" x2="442.25" y2="57.90" stroke="#111" stroke-width="1.0"/>
<line x1="436.75" y1="68.10" x2="442.25" y2="68.10" stroke="#111" stroke-width="1.0"/>
<line x1="434.00" y1="63.00" x2="445.00" y2="63.00" stroke="#111" stroke-width="1.1"/>
<circle cx="453.90" cy="46.80" r="1.55" fill="none" stroke="#41619f" stroke-width="0.85"/>
<circle cx="451.30" cy="55.30" r="1.55" fill="none" stroke="#41619f" stroke-width="0.85"/>
<circle cx="454.10" cy="54.00" r="1.55" fill="none" stroke="#41619f" stroke-width="0.85"/>
<circle cx="456.00" cy="59.60" r="1.55" fill="none" stroke="#41619f" stroke-width="0.85"/>
<circle cx="451.40" cy="73.60" r="1.55" fill="none" stroke="#41619f" stroke-width="0.85"/>
<circle cx="455.70" cy="71.80" r="1.55" fill="none" stroke="#41619f" stroke-width="0.85"/>
<circle cx="455.30" cy="75.40" r="1.55" fill="none" stroke="#41619f" stroke-width="0.85"/>
<circle cx="451.20" cy="87.10" r="1.55" fill="none" stroke="#41619f" stroke-width="0.85"/>
<circle cx="454.20" cy="88.30" r="1.55" fill="none" stroke="#41619f" stroke-width="0.85"/>
<circle cx="456.50" cy="89.50" r="1.55" fill="none" stroke="#41619f" stroke-width="0.85"/>
<circle cx="451.20" cy="93.10" r="1.55" fill="none" stroke="#41619f" stroke-width="0.85"/>
<circle cx="454.20" cy="94.30" r="1.55" fill="none" stroke="#41619f" stroke-width="0.85"/>
<circle cx="457.10" cy="94.30" r="1.55" fill="none" stroke="#41619f" stroke-width="0.85"/>
<circle cx="452.40" cy="96.00" r="1.55" fill="none" stroke="#41619f" stroke-width="0.85"/>
<circle cx="455.00" cy="96.50" r="1.55" fill="none" stroke="#41619f" stroke-width="0.85"/>
<line x1="453.80" y1="73.80" x2="453.80" y2="83.00" stroke="#111" stroke-width="1.0"/>
<line x1="451.05" y1="73.80" x2="456.55" y2="73.80" stroke="#111" stroke-width="1.0"/>
<line x1="451.05" y1="83.00" x2="456.55" y2="83.00" stroke="#111" stroke-width="1.0"/>
<line x1="448.55" y1="78.60" x2="459.05" y2="78.60" stroke="#111" stroke-width="1.1"/>
<path d="M438.90,31.80 V29.00 H456.00 V31.80" fill="none" stroke="#1e1e1e" stroke-width="0.9"/>
<circle cx="447.50" cy="25.50" r="1.25" fill="#303030"/>
<text transform="translate(9.30,145.40) scale(1.0,1)" font-size="11.5" text-anchor="start" font-weight="bold" font-style="normal" fill="#000" style="stroke:none">C</text>
<line x1="38.50" y1="151.10" x2="38.50" y2="229.65" stroke="#151515" stroke-width="1.15"/>
<line x1="35.30" y1="228.75" x2="38.50" y2="228.75" stroke="#000" stroke-width="0.9"/>
<text transform="translate(32.30,231.45) scale(0.9,1)" font-size="8.2" text-anchor="end" font-weight="normal" font-style="normal" fill="#000" >0</text>
<line x1="35.30" y1="213.78" x2="38.50" y2="213.78" stroke="#000" stroke-width="0.9"/>
<text transform="translate(32.30,216.48) scale(0.9,1)" font-size="8.2" text-anchor="end" font-weight="normal" font-style="normal" fill="#000" >1</text>
<line x1="35.30" y1="198.81" x2="38.50" y2="198.81" stroke="#000" stroke-width="0.9"/>
<text transform="translate(32.30,201.51) scale(0.9,1)" font-size="8.2" text-anchor="end" font-weight="normal" font-style="normal" fill="#000" >2</text>
<line x1="35.30" y1="183.84" x2="38.50" y2="183.84" stroke="#000" stroke-width="0.9"/>
<text transform="translate(32.30,186.54) scale(0.9,1)" font-size="8.2" text-anchor="end" font-weight="normal" font-style="normal" fill="#000" >3</text>
<line x1="35.30" y1="168.87" x2="38.50" y2="168.87" stroke="#000" stroke-width="0.9"/>
<text transform="translate(32.30,171.57) scale(0.9,1)" font-size="8.2" text-anchor="end" font-weight="normal" font-style="normal" fill="#000" >4</text>
<line x1="35.30" y1="153.90" x2="38.50" y2="153.90" stroke="#000" stroke-width="0.9"/>
<text transform="translate(32.30,156.60) scale(0.9,1)" font-size="8.2" text-anchor="end" font-weight="normal" font-style="normal" fill="#000" >5</text>
<line x1="38.00" y1="228.75" x2="75.60" y2="228.75" stroke="#1c1c1c" stroke-width="1.4"/>
<line x1="47.50" y1="228.75" x2="47.50" y2="232.05" stroke="#222" stroke-width="1.0"/>
<line x1="65.80" y1="228.75" x2="65.80" y2="232.05" stroke="#222" stroke-width="1.0"/>
<text transform="translate(22.50,189.80) rotate(-90) scale(0.795,1)" font-size="9.7" text-anchor="middle" fill="#111" style="stroke-width:0.2px">Cells (x 10<tspan font-size="6" dy="-3.6">4</tspan><tspan dy="3.6">)</tspan></text>
<text transform="translate(57.00,241.80) scale(0.9,1)" font-size="8.2" text-anchor="middle" font-weight="normal" font-style="normal" fill="#000" >LSK</text>
<rect x="41.00" y="178.10" width="13.00" height="50.65" fill="#a9002c"/>
<rect x="59.55" y="174.90" width="12.50" height="53.85" fill="#2d4a85"/>
<line x1="47.50" y1="173.80" x2="47.50" y2="182.30" stroke="#111" stroke-width="1.0"/>
<line x1="44.50" y1="173.80" x2="50.50" y2="173.80" stroke="#111" stroke-width="1.0"/>
<line x1="44.50" y1="182.30" x2="50.50" y2="182.30" stroke="#111" stroke-width="1.0"/>
<line x1="65.80" y1="167.90" x2="65.80" y2="181.40" stroke="#111" stroke-width="1.0"/>
<line x1="62.80" y1="167.90" x2="68.80" y2="167.90" stroke="#111" stroke-width="1.0"/>
<line x1="62.80" y1="181.40" x2="68.80" y2="181.40" stroke="#111" stroke-width="1.0"/>
<line x1="114.50" y1="151.10" x2="114.50" y2="229.65" stroke="#151515" stroke-width="1.15"/>
<line x1="111.30" y1="228.75" x2="114.50" y2="228.75" stroke="#000" stroke-width="0.9"/>
<text transform="translate(108.30,231.45) scale(0.9,1)" font-size="8.2" text-anchor="end" font-weight="normal" font-style="normal" fill="#000" >0</text>
<line x1="111.30" y1="203.80" x2="114.50" y2="203.80" stroke="#000" stroke-width="0.9"/>
<text transform="translate(108.30,206.50) scale(0.9,1)" font-size="8.2" text-anchor="end" font-weight="normal" font-style="normal" fill="#000" >10</text>
<line x1="111.30" y1="178.85" x2="114.50" y2="178.85" stroke="#000" stroke-width="0.9"/>
<text transform="translate(108.30,181.55) scale(0.9,1)" font-size="8.2" text-anchor="end" font-weight="normal" font-style="normal" fill="#000" >20</text>
<line x1="111.30" y1="153.90" x2="114.50" y2="153.90" stroke="#000" stroke-width="0.9"/>
<text transform="translate(108.30,156.60) scale(0.9,1)" font-size="8.2" text-anchor="end" font-weight="normal" font-style="normal" fill="#000" >30</text>
<line x1="114.00" y1="228.75" x2="227.00" y2="228.75" stroke="#1c1c1c" stroke-width="1.4"/>
<line x1="121.50" y1="228.75" x2="121.50" y2="232.05" stroke="#222" stroke-width="1.0"/>
<line x1="135.50" y1="228.75" x2="135.50" y2="232.05" stroke="#222" stroke-width="1.0"/>
<line x1="149.50" y1="228.75" x2="149.50" y2="232.05" stroke="#222" stroke-width="1.0"/>
<line x1="163.50" y1="228.75" x2="163.50" y2="232.05" stroke="#222" stroke-width="1.0"/>
<line x1="177.50" y1="228.75" x2="177.50" y2="232.05" stroke="#222" stroke-width="1.0"/>
<line x1="191.50" y1="228.75" x2="191.50" y2="232.05" stroke="#222" stroke-width="1.0"/>
<line x1="205.50" y1="228.75" x2="205.50" y2="232.05" stroke="#222" stroke-width="1.0"/>
<line x1="219.50" y1="228.75" x2="219.50" y2="232.05" stroke="#222" stroke-width="1.0"/>
<text transform="translate(93.90,189.80) rotate(-90) scale(0.795,1)" font-size="9.7" text-anchor="middle" fill="#111" style="stroke-width:0.2px">Cells (x 10<tspan font-size="6" dy="-3.6">3</tspan><tspan dy="3.6">)</tspan></text>
<text transform="translate(128.40,241.80) scale(0.9,1)" font-size="8.2" text-anchor="middle" font-weight="normal" font-style="normal" fill="#000" >HSC</text>
<text transform="translate(156.40,241.80) scale(0.9,1)" font-size="8.2" text-anchor="middle" font-weight="normal" font-style="normal" fill="#000" >ST-HSC</text>
<text transform="translate(184.50,241.80) scale(0.9,1)" font-size="8.2" text-anchor="middle" font-weight="normal" font-style="normal" fill="#000" >HPC-2</text>
<text transform="translate(212.60,241.80) scale(0.9,1)" font-size="8.2" text-anchor="middle" font-weight="normal" font-style="normal" fill="#000" >MPP</text>
<circle cx="121.10" cy="156.10" r="1.9" fill="#a9002c"/>
<circle cx="121.10" cy="166.40" r="1.9" fill="#2d4a85"/>
<text transform="translate(125.60,159.50) scale(0.9,1)" font-size="8.2" text-anchor="start" font-weight="normal" font-style="normal" fill="#000" >WT (CD45.1)</text>
<text transform="translate(126.30,169.20) scale(0.9,1)" font-size="8.2" text-anchor="start" font-weight="normal" font-style="italic" fill="#000" >3d</text>
<text transform="translate(136.60,169.20) scale(0.9,1)" font-size="8.2" text-anchor="start" font-weight="normal" font-style="normal" fill="#000" >(CD45.2)</text>
<rect x="117.00" y="221.76" width="9.50" height="6.99" fill="#a9002c"/>
<line x1="121.50" y1="220.77" x2="121.50" y2="222.51" stroke="#111" stroke-width="1.0"/>
<line x1="119.10" y1="220.77" x2="123.90" y2="220.77" stroke="#111" stroke-width="1.0"/>
<line x1="119.10" y1="222.51" x2="123.90" y2="222.51" stroke="#111" stroke-width="1.0"/>
<rect x="131.00" y="218.02" width="9.50" height="10.73" fill="#2d4a85"/>
<line x1="135.50" y1="215.53" x2="135.50" y2="220.02" stroke="#111" stroke-width="1.0"/>
<line x1="133.10" y1="215.53" x2="137.90" y2="215.53" stroke="#111" stroke-width="1.0"/>
<line x1="133.10" y1="220.02" x2="137.90" y2="220.02" stroke="#111" stroke-width="1.0"/>
<rect x="145.00" y="221.02" width="9.50" height="7.73" fill="#a9002c"/>
<line x1="149.50" y1="220.52" x2="149.50" y2="221.51" stroke="#111" stroke-width="1.0"/>
<line x1="147.10" y1="220.52" x2="151.90" y2="220.52" stroke="#111" stroke-width="1.0"/>
<line x1="147.10" y1="221.51" x2="151.90" y2="221.51" stroke="#111" stroke-width="1.0"/>
<rect x="159.00" y="214.28" width="9.50" height="14.47" fill="#2d4a85"/>
<line x1="163.50" y1="211.53" x2="163.50" y2="216.77" stroke="#111" stroke-width="1.0"/>
<line x1="161.10" y1="211.53" x2="165.90" y2="211.53" stroke="#111" stroke-width="1.0"/>
<line x1="161.10" y1="216.77" x2="165.90" y2="216.77" stroke="#111" stroke-width="1.0"/>
<rect x="173.00" y="220.27" width="9.50" height="8.48" fill="#a9002c"/>
<line x1="177.50" y1="219.02" x2="177.50" y2="221.51" stroke="#111" stroke-width="1.0"/>
<line x1="175.10" y1="219.02" x2="179.90" y2="219.02" stroke="#111" stroke-width="1.0"/>
<line x1="175.10" y1="221.51" x2="179.90" y2="221.51" stroke="#111" stroke-width="1.0"/>
<rect x="187.00" y="221.76" width="9.50" height="6.99" fill="#2d4a85"/>
<line x1="191.50" y1="221.02" x2="191.50" y2="222.26" stroke="#111" stroke-width="1.0"/>
<line x1="189.10" y1="221.02" x2="193.90" y2="221.02" stroke="#111" stroke-width="1.0"/>
<line x1="189.10" y1="222.26" x2="193.90" y2="222.26" stroke="#111" stroke-width="1.0"/>
<rect x="201.00" y="167.37" width="9.50" height="61.38" fill="#a9002c"/>
<line x1="205.50" y1="162.38" x2="205.50" y2="172.36" stroke="#111" stroke-width="1.0"/>
<line x1="203.10" y1="162.38" x2="207.90" y2="162.38" stroke="#111" stroke-width="1.0"/>
<line x1="203.10" y1="172.36" x2="207.90" y2="172.36" stroke="#111" stroke-width="1.0"/>
<rect x="215.00" y="171.86" width="9.50" height="56.89" fill="#2d4a85"/>
<line x1="219.50" y1="164.38" x2="219.50" y2="179.35" stroke="#111" stroke-width="1.0"/>
<line x1="217.10" y1="164.38" x2="221.90" y2="164.38" stroke="#111" stroke-width="1.0"/>
<line x1="217.10" y1="179.35" x2="221.90" y2="179.35" stroke="#111" stroke-width="1.0"/>
<text transform="translate(233.40,145.40) scale(1.08,1)" font-size="11.5" text-anchor="start" font-weight="bold" font-style="normal" fill="#000" style="stroke:none">D</text>
<line x1="262.50" y1="151.13" x2="262.50" y2="229.65" stroke="#151515" stroke-width="1.15"/>
<line x1="259.30" y1="228.75" x2="262.50" y2="228.75" stroke="#000" stroke-width="0.9"/>
<text transform="translate(256.30,231.45) scale(0.9,1)" font-size="8.2" text-anchor="end" font-weight="normal" font-style="normal" fill="#000" >0</text>
<line x1="259.30" y1="203.81" x2="262.50" y2="203.81" stroke="#000" stroke-width="0.9"/>
<text transform="translate(256.30,206.51) scale(0.9,1)" font-size="8.2" text-anchor="end" font-weight="normal" font-style="normal" fill="#000" >2</text>
<line x1="259.30" y1="178.87" x2="262.50" y2="178.87" stroke="#000" stroke-width="0.9"/>
<text transform="translate(256.30,181.57) scale(0.9,1)" font-size="8.2" text-anchor="end" font-weight="normal" font-style="normal" fill="#000" >4</text>
<line x1="259.30" y1="153.93" x2="262.50" y2="153.93" stroke="#000" stroke-width="0.9"/>
<text transform="translate(256.30,156.63) scale(0.9,1)" font-size="8.2" text-anchor="end" font-weight="normal" font-style="normal" fill="#000" >6</text>
<line x1="262.00" y1="228.75" x2="308.30" y2="228.75" stroke="#1c1c1c" stroke-width="1.4"/>
<line x1="268.10" y1="228.75" x2="268.10" y2="232.05" stroke="#222" stroke-width="1.0"/>
<line x1="279.30" y1="228.75" x2="279.30" y2="232.05" stroke="#222" stroke-width="1.0"/>
<line x1="290.50" y1="228.75" x2="290.50" y2="232.05" stroke="#222" stroke-width="1.0"/>
<line x1="301.80" y1="228.75" x2="301.80" y2="232.05" stroke="#222" stroke-width="1.0"/>
<text transform="translate(246.80,189.80) rotate(-90) scale(0.795,1)" font-size="9.7" text-anchor="middle" fill="#111" style="stroke-width:0.2px">Cells (x 10<tspan font-size="6" dy="-3.6">4</tspan><tspan dy="3.6">)</tspan></text>
<text transform="translate(285.60,241.80) scale(0.9,1)" font-size="8.2" text-anchor="middle" font-weight="normal" font-style="normal" fill="#000" >LSK</text>
<rect x="264.35" y="178.25" width="7.50" height="50.50" fill="#a9002c"/>
<line x1="268.10" y1="173.26" x2="268.10" y2="182.61" stroke="#111" stroke-width="1.0"/>
<line x1="265.85" y1="173.26" x2="270.35" y2="173.26" stroke="#111" stroke-width="1.0"/>
<line x1="265.85" y1="182.61" x2="270.35" y2="182.61" stroke="#111" stroke-width="1.0"/>
<rect x="275.55" y="190.09" width="7.50" height="38.66" fill="#2d4a85"/>
<line x1="279.30" y1="183.86" x2="279.30" y2="196.33" stroke="#111" stroke-width="1.0"/>
<line x1="277.05" y1="183.86" x2="281.55" y2="183.86" stroke="#111" stroke-width="1.0"/>
<line x1="277.05" y1="196.33" x2="281.55" y2="196.33" stroke="#111" stroke-width="1.0"/>
<rect x="286.75" y="202.56" width="7.50" height="26.19" fill="#7bc043"/>
<line x1="290.50" y1="194.83" x2="290.50" y2="209.42" stroke="#111" stroke-width="1.0"/>
<line x1="288.25" y1="194.83" x2="292.75" y2="194.83" stroke="#111" stroke-width="1.0"/>
<line x1="288.25" y1="209.42" x2="292.75" y2="209.42" stroke="#111" stroke-width="1.0"/>
<rect x="298.05" y="199.45" width="7.50" height="29.30" fill="#4a2668"/>
<line x1="301.80" y1="195.33" x2="301.80" y2="203.81" stroke="#111" stroke-width="1.0"/>
<line x1="299.55" y1="195.33" x2="304.05" y2="195.33" stroke="#111" stroke-width="1.0"/>
<line x1="299.55" y1="203.81" x2="304.05" y2="203.81" stroke="#111" stroke-width="1.0"/>
<path d="M268.00,154.00 V151.80 H301.30 V154.00" fill="none" stroke="#1e1e1e" stroke-width="0.9"/>
<circle cx="283.30" cy="149.30" r="1.25" fill="#303030"/>
<circle cx="286.70" cy="149.30" r="1.25" fill="#303030"/>
<path d="M268.00,164.50 V162.30 H291.80 V164.50" fill="none" stroke="#1e1e1e" stroke-width="0.9"/>
<circle cx="280.00" cy="158.80" r="1.25" fill="#303030"/>
<line x1="347.10" y1="151.20" x2="347.10" y2="229.70" stroke="#151515" stroke-width="1.15"/>
<line x1="343.90" y1="228.80" x2="347.10" y2="228.80" stroke="#000" stroke-width="0.9"/>
<text transform="translate(340.90,231.50) scale(0.9,1)" font-size="8.2" text-anchor="end" font-weight="normal" font-style="normal" fill="#000" >0</text>
<line x1="343.90" y1="210.10" x2="347.10" y2="210.10" stroke="#000" stroke-width="0.9"/>
<text transform="translate(340.90,212.80) scale(0.9,1)" font-size="8.2" text-anchor="end" font-weight="normal" font-style="normal" fill="#000" >10</text>
<line x1="343.90" y1="191.40" x2="347.10" y2="191.40" stroke="#000" stroke-width="0.9"/>
<text transform="translate(340.90,194.10) scale(0.9,1)" font-size="8.2" text-anchor="end" font-weight="normal" font-style="normal" fill="#000" >20</text>
<line x1="343.90" y1="172.70" x2="347.10" y2="172.70" stroke="#000" stroke-width="0.9"/>
<text transform="translate(340.90,175.40) scale(0.9,1)" font-size="8.2" text-anchor="end" font-weight="normal" font-style="normal" fill="#000" >30</text>
<line x1="343.90" y1="154.00" x2="347.10" y2="154.00" stroke="#000" stroke-width="0.9"/>
<text transform="translate(340.90,156.70) scale(0.9,1)" font-size="8.2" text-anchor="end" font-weight="normal" font-style="normal" fill="#000" >40</text>
<line x1="346.60" y1="228.80" x2="512.80" y2="228.80" stroke="#1c1c1c" stroke-width="1.4"/>
<line x1="352.70" y1="228.80" x2="352.70" y2="231.40" stroke="#222" stroke-width="1.0"/>
<line x1="363.00" y1="228.80" x2="363.00" y2="231.40" stroke="#222" stroke-width="1.0"/>
<line x1="373.30" y1="228.80" x2="373.30" y2="231.40" stroke="#222" stroke-width="1.0"/>
<line x1="383.60" y1="228.80" x2="383.60" y2="231.40" stroke="#222" stroke-width="1.0"/>
<line x1="394.00" y1="228.80" x2="394.00" y2="231.40" stroke="#222" stroke-width="1.0"/>
<line x1="404.30" y1="228.80" x2="404.30" y2="231.40" stroke="#222" stroke-width="1.0"/>
<line x1="414.60" y1="228.80" x2="414.60" y2="231.40" stroke="#222" stroke-width="1.0"/>
<line x1="424.90" y1="228.80" x2="424.90" y2="231.40" stroke="#222" stroke-width="1.0"/>
<line x1="435.30" y1="228.80" x2="435.30" y2="231.40" stroke="#222" stroke-width="1.0"/>
<line x1="445.60" y1="228.80" x2="445.60" y2="231.40" stroke="#222" stroke-width="1.0"/>
<line x1="455.90" y1="228.80" x2="455.90" y2="231.40" stroke="#222" stroke-width="1.0"/>
<line x1="466.20" y1="228.80" x2="466.20" y2="231.40" stroke="#222" stroke-width="1.0"/>
<line x1="476.60" y1="228.80" x2="476.60" y2="231.40" stroke="#222" stroke-width="1.0"/>
<line x1="486.90" y1="228.80" x2="486.90" y2="231.40" stroke="#222" stroke-width="1.0"/>
<line x1="497.20" y1="228.80" x2="497.20" y2="231.40" stroke="#222" stroke-width="1.0"/>
<line x1="507.50" y1="228.80" x2="507.50" y2="231.40" stroke="#222" stroke-width="1.0"/>
<line x1="388.60" y1="228.80" x2="388.60" y2="244.50" stroke="#000" stroke-width="0.9"/>
<line x1="430.00" y1="228.80" x2="430.00" y2="244.50" stroke="#000" stroke-width="0.9"/>
<line x1="471.40" y1="228.80" x2="471.40" y2="244.50" stroke="#000" stroke-width="0.9"/>
<text transform="translate(326.80,189.80) rotate(-90) scale(0.795,1)" font-size="9.7" text-anchor="middle" fill="#111" style="stroke-width:0.2px">Cells (x 10<tspan font-size="6" dy="-3.6">3</tspan><tspan dy="3.6">)</tspan></text>
<text transform="translate(368.30,241.80) scale(0.9,1)" font-size="8.2" text-anchor="middle" font-weight="normal" font-style="normal" fill="#000" >HSC</text>
<text transform="translate(409.60,241.80) scale(0.9,1)" font-size="8.2" text-anchor="middle" font-weight="normal" font-style="normal" fill="#000" >ST-HSC</text>
<text transform="translate(450.90,241.80) scale(0.9,1)" font-size="8.2" text-anchor="middle" font-weight="normal" font-style="normal" fill="#000" >HPC-2</text>
<text transform="translate(492.20,241.80) scale(0.9,1)" font-size="8.2" text-anchor="middle" font-weight="normal" font-style="normal" fill="#000" >MPP</text>
<rect x="349.40" y="225.25" width="6.60" height="3.55" fill="#a9002c"/>
<line x1="352.70" y1="224.31" x2="352.70" y2="226.18" stroke="#111" stroke-width="1.0"/>
<line x1="350.60" y1="224.31" x2="354.80" y2="224.31" stroke="#111" stroke-width="1.0"/>
<line x1="350.60" y1="226.18" x2="354.80" y2="226.18" stroke="#111" stroke-width="1.0"/>
<rect x="359.70" y="226.74" width="6.60" height="2.06" fill="#2d4a85"/>
<line x1="363.00" y1="226.18" x2="363.00" y2="227.30" stroke="#111" stroke-width="1.0"/>
<line x1="360.90" y1="226.18" x2="365.10" y2="226.18" stroke="#111" stroke-width="1.0"/>
<line x1="360.90" y1="227.30" x2="365.10" y2="227.30" stroke="#111" stroke-width="1.0"/>
<rect x="370.00" y="225.81" width="6.60" height="2.99" fill="#7bc043"/>
<line x1="373.30" y1="225.06" x2="373.30" y2="226.56" stroke="#111" stroke-width="1.0"/>
<line x1="371.20" y1="225.06" x2="375.40" y2="225.06" stroke="#111" stroke-width="1.0"/>
<line x1="371.20" y1="226.56" x2="375.40" y2="226.56" stroke="#111" stroke-width="1.0"/>
<rect x="380.30" y="225.62" width="6.60" height="3.18" fill="#4a2668"/>
<line x1="383.60" y1="223.56" x2="383.60" y2="226.93" stroke="#111" stroke-width="1.0"/>
<line x1="381.50" y1="223.56" x2="385.70" y2="223.56" stroke="#111" stroke-width="1.0"/>
<line x1="381.50" y1="226.93" x2="385.70" y2="226.93" stroke="#111" stroke-width="1.0"/>
<rect x="390.70" y="224.69" width="6.60" height="4.11" fill="#a9002c"/>
<line x1="394.00" y1="224.12" x2="394.00" y2="225.25" stroke="#111" stroke-width="1.0"/>
<line x1="391.90" y1="224.12" x2="396.10" y2="224.12" stroke="#111" stroke-width="1.0"/>
<line x1="391.90" y1="225.25" x2="396.10" y2="225.25" stroke="#111" stroke-width="1.0"/>
<rect x="401.00" y="224.12" width="6.60" height="4.68" fill="#2d4a85"/>
<line x1="404.30" y1="222.07" x2="404.30" y2="225.81" stroke="#111" stroke-width="1.0"/>
<line x1="402.20" y1="222.07" x2="406.40" y2="222.07" stroke="#111" stroke-width="1.0"/>
<line x1="402.20" y1="225.81" x2="406.40" y2="225.81" stroke="#111" stroke-width="1.0"/>
<rect x="411.30" y="227.68" width="6.60" height="1.12" fill="#7bc043"/>
<line x1="414.60" y1="227.12" x2="414.60" y2="228.24" stroke="#111" stroke-width="1.0"/>
<line x1="412.50" y1="227.12" x2="416.70" y2="227.12" stroke="#111" stroke-width="1.0"/>
<line x1="412.50" y1="228.24" x2="416.70" y2="228.24" stroke="#111" stroke-width="1.0"/>
<rect x="421.60" y="227.40" width="6.60" height="1.40" fill="#4a2668"/>
<line x1="424.90" y1="226.93" x2="424.90" y2="227.87" stroke="#111" stroke-width="1.0"/>
<line x1="422.80" y1="226.93" x2="427.00" y2="226.93" stroke="#111" stroke-width="1.0"/>
<line x1="422.80" y1="227.87" x2="427.00" y2="227.87" stroke="#111" stroke-width="1.0"/>
<rect x="432.00" y="217.21" width="6.60" height="11.59" fill="#a9002c"/>
<line x1="435.30" y1="215.52" x2="435.30" y2="218.89" stroke="#111" stroke-width="1.0"/>
<line x1="433.20" y1="215.52" x2="437.40" y2="215.52" stroke="#111" stroke-width="1.0"/>
<line x1="433.20" y1="218.89" x2="437.40" y2="218.89" stroke="#111" stroke-width="1.0"/>
<rect x="442.30" y="220.20" width="6.60" height="8.60" fill="#2d4a85"/>
<line x1="445.60" y1="217.77" x2="445.60" y2="222.63" stroke="#111" stroke-width="1.0"/>
<line x1="443.50" y1="217.77" x2="447.70" y2="217.77" stroke="#111" stroke-width="1.0"/>
<line x1="443.50" y1="222.63" x2="447.70" y2="222.63" stroke="#111" stroke-width="1.0"/>
<rect x="452.60" y="224.31" width="6.60" height="4.49" fill="#7bc043"/>
<line x1="455.90" y1="222.26" x2="455.90" y2="226.18" stroke="#111" stroke-width="1.0"/>
<line x1="453.80" y1="222.26" x2="458.00" y2="222.26" stroke="#111" stroke-width="1.0"/>
<line x1="453.80" y1="226.18" x2="458.00" y2="226.18" stroke="#111" stroke-width="1.0"/>
<rect x="462.90" y="222.07" width="6.60" height="6.73" fill="#4a2668"/>
<line x1="466.20" y1="220.57" x2="466.20" y2="223.56" stroke="#111" stroke-width="1.0"/>
<line x1="464.10" y1="220.57" x2="468.30" y2="220.57" stroke="#111" stroke-width="1.0"/>
<line x1="464.10" y1="223.56" x2="468.30" y2="223.56" stroke="#111" stroke-width="1.0"/>
<rect x="473.30" y="172.14" width="6.60" height="56.66" fill="#a9002c"/>
<line x1="476.60" y1="166.34" x2="476.60" y2="178.31" stroke="#111" stroke-width="1.0"/>
<line x1="474.50" y1="166.34" x2="478.70" y2="166.34" stroke="#111" stroke-width="1.0"/>
<line x1="474.50" y1="178.31" x2="478.70" y2="178.31" stroke="#111" stroke-width="1.0"/>
<rect x="483.60" y="186.54" width="6.60" height="42.26" fill="#2d4a85"/>
<line x1="486.90" y1="179.62" x2="486.90" y2="192.71" stroke="#111" stroke-width="1.0"/>
<line x1="484.80" y1="179.62" x2="489.00" y2="179.62" stroke="#111" stroke-width="1.0"/>
<line x1="484.80" y1="192.71" x2="489.00" y2="192.71" stroke="#111" stroke-width="1.0"/>
<rect x="493.90" y="199.07" width="6.60" height="29.73" fill="#7bc043"/>
<line x1="497.20" y1="190.28" x2="497.20" y2="207.86" stroke="#111" stroke-width="1.0"/>
<line x1="495.10" y1="190.28" x2="499.30" y2="190.28" stroke="#111" stroke-width="1.0"/>
<line x1="495.10" y1="207.86" x2="499.30" y2="207.86" stroke="#111" stroke-width="1.0"/>
<rect x="504.20" y="196.64" width="6.60" height="32.16" fill="#4a2668"/>
<line x1="507.50" y1="192.90" x2="507.50" y2="200.19" stroke="#111" stroke-width="1.0"/>
<line x1="505.40" y1="192.90" x2="509.60" y2="192.90" stroke="#111" stroke-width="1.0"/>
<line x1="505.40" y1="200.19" x2="509.60" y2="200.19" stroke="#111" stroke-width="1.0"/>
<circle cx="353.10" cy="155.60" r="1.85" fill="#a9002c"/>
<text transform="translate(358.00,157.80) scale(1.0,1)" font-size="7.9" text-anchor="start" font-weight="normal" font-style="normal" fill="#000" >WT</text>
<line x1="371.80" y1="155.70" x2="377.80" y2="155.70" stroke="#222" stroke-width="0.65"/>
<path d="M376.80,154.45 L378.80,155.70 L376.80,156.95 Z" fill="#222"/>
<text transform="translate(380.50,157.80) scale(1.0,1)" font-size="7.9" text-anchor="start" font-weight="normal" font-style="normal" fill="#000" >WT</text>
<circle cx="353.10" cy="162.30" r="1.85" fill="#2d4a85"/>
<text transform="translate(358.00,164.50) scale(1.0,1)" font-size="7.9" text-anchor="start" font-weight="normal" font-style="normal" fill="#000" >WT</text>
<line x1="371.80" y1="162.40" x2="377.80" y2="162.40" stroke="#222" stroke-width="0.65"/>
<path d="M376.80,161.15 L378.80,162.40 L376.80,163.65 Z" fill="#222"/>
<text transform="translate(380.50,164.50) scale(1.0,1)" font-size="7.9" text-anchor="start" font-weight="normal" font-style="italic" fill="#000" >3d</text>
<circle cx="353.10" cy="169.00" r="1.85" fill="#7bc043"/>
<text transform="translate(358.00,171.20) scale(1.0,1)" font-size="7.9" text-anchor="start" font-weight="normal" font-style="italic" fill="#000" >3d</text>
<line x1="369.20" y1="169.10" x2="375.20" y2="169.10" stroke="#222" stroke-width="0.65"/>
<path d="M374.20,167.85 L376.20,169.10 L374.20,170.35 Z" fill="#222"/>
<text transform="translate(377.90,171.20) scale(1.0,1)" font-size="7.9" text-anchor="start" font-weight="normal" font-style="normal" fill="#000" >WT</text>
<circle cx="353.10" cy="175.60" r="1.85" fill="#4a2668"/>
<text transform="translate(358.00,177.80) scale(1.0,1)" font-size="7.9" text-anchor="start" font-weight="normal" font-style="italic" fill="#000" >3d</text>
<line x1="369.20" y1="175.70" x2="375.20" y2="175.70" stroke="#222" stroke-width="0.65"/>
<path d="M374.20,174.45 L376.20,175.70 L374.20,176.95 Z" fill="#222"/>
<text transform="translate(377.90,177.80) scale(1.0,1)" font-size="7.9" text-anchor="start" font-weight="normal" font-style="italic" fill="#000" >3d</text>
<path d="M393.30,196.60 V194.40 H426.10 V196.60" fill="none" stroke="#1e1e1e" stroke-width="0.9"/>
<circle cx="407.90" cy="191.50" r="1.25" fill="#303030"/>
<circle cx="411.30" cy="191.50" r="1.25" fill="#303030"/>
<path d="M393.30,204.80 V202.50 H414.40 V204.80" fill="none" stroke="#1e1e1e" stroke-width="0.9"/>
<circle cx="400.50" cy="199.40" r="1.25" fill="#303030"/>
<circle cx="403.90" cy="199.40" r="1.25" fill="#303030"/>
<circle cx="407.30" cy="199.40" r="1.25" fill="#303030"/>
<path d="M405.40,212.80 V210.40 H426.10 V212.80" fill="none" stroke="#1e1e1e" stroke-width="0.9"/>
<circle cx="415.80" cy="207.20" r="1.25" fill="#303030"/>
<path d="M405.40,220.10 V217.70 H414.40 V220.10" fill="none" stroke="#1e1e1e" stroke-width="0.9"/>
<circle cx="409.80" cy="214.80" r="1.25" fill="#303030"/>
<path d="M435.30,196.60 V194.40 H467.10 V196.60" fill="none" stroke="#1e1e1e" stroke-width="0.9"/>
<circle cx="451.20" cy="191.30" r="1.25" fill="#303030"/>
<path d="M435.30,204.80 V202.50 H455.80 V204.80" fill="none" stroke="#1e1e1e" stroke-width="0.9"/>
<circle cx="445.50" cy="199.30" r="1.25" fill="#303030"/>
<path d="M476.70,155.60 V153.40 H508.90 V155.60" fill="none" stroke="#1e1e1e" stroke-width="0.9"/>
<circle cx="491.10" cy="150.00" r="1.25" fill="#303030"/>
<circle cx="494.50" cy="150.00" r="1.25" fill="#303030"/>
<path d="M476.70,162.80 V160.60 H497.50 V162.80" fill="none" stroke="#1e1e1e" stroke-width="0.9"/>
<circle cx="487.60" cy="157.80" r="1.25" fill="#303030"/>
</g>
</svg>
</body></html>
